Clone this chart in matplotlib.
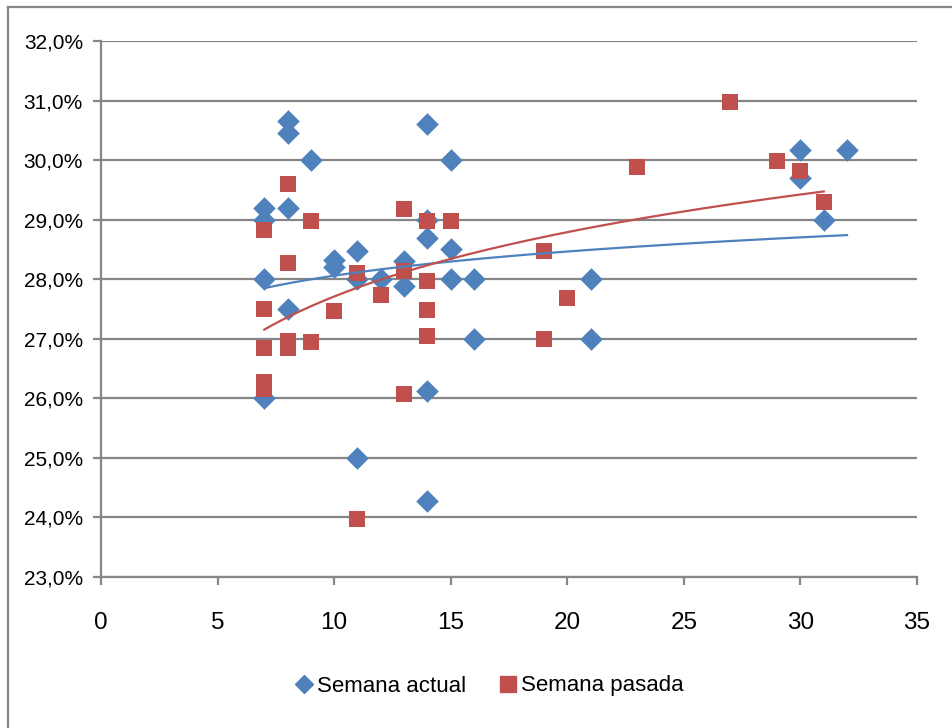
import numpy as np
import matplotlib
matplotlib.use("Agg")
import matplotlib.pyplot as plt
from matplotlib.ticker import FuncFormatter
from matplotlib.lines import Line2D

plt.rcParams['font.family'] = ['Liberation Sans', 'DejaVu Sans']

# Semana actual (blue diamonds)
actual_x = [7, 7, 7, 7, 8, 8, 8, 8, 9, 10, 10, 11, 11, 11, 12, 13, 13,
            14, 14, 14, 14, 14, 15, 15, 15, 16, 16, 21, 21, 30, 30, 31, 32]
actual_y = [26.0, 28.0, 29.0, 29.2, 27.5, 29.2, 30.45, 30.65, 30.0, 28.2, 28.33,
            25.0, 28.0, 28.48, 28.0, 27.88, 28.3,
            24.27, 26.13, 28.7, 29.0, 30.6, 28.0, 28.5, 30.0, 27.0, 28.0,
            27.0, 28.0, 29.7, 30.17, 29.0, 30.17]

# Semana pasada (red squares)
pasada_x = [7, 7, 7, 7, 7, 8, 8, 8, 8, 9, 9, 10, 11, 11, 12, 13, 13, 13,
            14, 14, 14, 14, 15, 19, 19, 20, 23, 27, 29, 30, 31]
pasada_y = [26.15, 26.28, 26.85, 27.5, 28.83, 26.85, 26.97, 28.28, 29.6,
            26.94, 28.97, 27.47, 23.97, 28.11, 27.74, 26.07, 28.13, 29.18,
            27.04, 27.48, 27.97, 28.97, 28.97, 26.99, 28.48, 27.68, 29.89,
            30.97, 29.98, 29.81, 29.3]

# logarithmic trendlines as shown in the chart: y = a + b*ln(x)
actual_trend = (26.71, 0.586)
pasada_trend = (24.12, 1.559)

blue = '#4F81BD'
red = '#C0504D'
grid_grey = '#868686'


def trend_line(x, coef):
    xs = np.linspace(min(x), max(x), 200)
    return xs, coef[0] + coef[1] * np.log(xs)


fig = plt.figure(figsize=(9.53, 7.28), dpi=100)
ax = fig.add_axes([101 / 953, 1 - 577 / 728, 816 / 953, 536 / 728])

ax.scatter(actual_x, actual_y, marker='D', s=11.5 ** 2, color=blue, zorder=3, linewidths=0)
ax.scatter(pasada_x, pasada_y, marker='s', s=12 ** 2, color=red, zorder=3, linewidths=0)

tx, ty = trend_line(actual_x, actual_trend)
ax.plot(tx, ty, color=blue, lw=1.6, zorder=4)
tx, ty = trend_line(pasada_x, pasada_trend)
ax.plot(tx, ty, color=red, lw=1.6, zorder=4)

ax.set_xlim(0, 35)
ax.set_ylim(23, 32)
ax.set_xticks(np.arange(0, 36, 5))
ax.set_yticks(np.arange(23, 33, 1))
ax.yaxis.set_major_formatter(FuncFormatter(lambda v, p: f"{v:.1f}%".replace('.', ',')))

ax.grid(axis='y', color=grid_grey, lw=1.6, zorder=0)
ax.set_axisbelow(True)
for s in ['top', 'right']:
    ax.spines[s].set_visible(False)
for s in ['left', 'bottom']:
    ax.spines[s].set_color(grid_grey)
    ax.spines[s].set_linewidth(1.6)
ax.tick_params(axis='both', color=grid_grey, width=1.6, length=6)
ax.tick_params(axis='y', labelsize=15, pad=7)
ax.tick_params(axis='x', labelsize=17.5, pad=19)

handles = [
    Line2D([], [], marker='D', color=blue, linestyle='none', markersize=9.5),
    Line2D([], [], marker='s', color=red, linestyle='none', markersize=11),
]
fig.legend(handles, ['Semana actual', 'Semana pasada'], loc='center',
           bbox_to_anchor=(490 / 953, 1 - 686 / 728), ncol=2, frameon=False,
           fontsize=16, handlelength=0.7, handletextpad=0.25, columnspacing=1.5)

# chart area border
fig.add_artist(Line2D([8 / 953, 8 / 953], [0, 1 - 7 / 728], color=grid_grey, lw=1.6))
fig.add_artist(Line2D([8 / 953, 1], [1 - 7 / 728, 1 - 7 / 728], color=grid_grey, lw=1.6))

fig.savefig('out.png', dpi=100)
